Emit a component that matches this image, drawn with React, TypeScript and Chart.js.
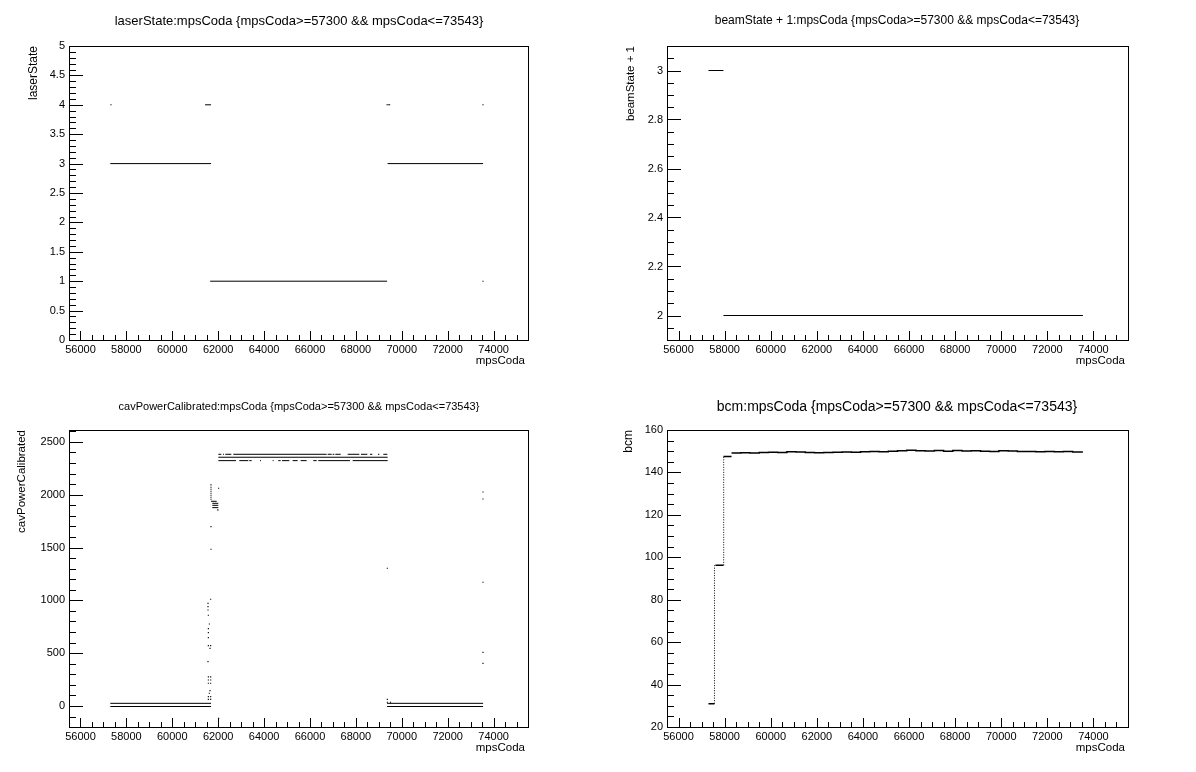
import React, { useEffect, useRef } from "react";
import { Chart, registerables } from "chart.js";
Chart.register(...registerables);

const FONT = "'Liberation Sans', Arial, Helvetica, sans-serif";

// ---------- shared x axis ----------
const xRange = [55500, 75500];
const xTickValues = [56000, 58000, 60000, 62000, 64000, 66000, 68000, 70000, 72000, 74000];

// ---------- panel 1: laserState ----------
const laserSegStart = [57300, 61650, 69380, 61430];
const laserSegEnd = [61690, 69360, 73543, 61690];
const laserSegValue = [3, 1, 3, 4];
const laserDotX = [57330, 69360, 69410, 69470, 73540, 73540];
const laserDotY = [4, 4, 4, 4, 4, 1];
const laserYTicks = [0, 0.5, 1, 1.5, 2, 2.5, 3, 3.5, 4, 4.5, 5];

// ---------- panel 2: beamState + 1 ----------
const beamSegStart = [57300, 57950];
const beamSegEnd = [57950, 73543];
const beamSegValue = [3, 2];
const beamYTicks = [2, 2.2, 2.4, 2.6, 2.8, 3];

// ---------- panel 3: cavPowerCalibrated ----------
const cavSegStart = [
  57300, 57300, 69360, 69360,
  62007, 62210, 62311, 62660, 66770, 66988, 67105, 67642, 68223, 68615, 68964, 69196,
  62007,
  62007, 62921, 63357, 63822, 64374, 64621, 64781, 65245, 65594, 66146, 66364, 67860,
  61687, 61745, 61745, 61745, 61950,
];
const cavSegEnd = [
  61690, 61690, 73543, 73543,
  62137, 62253, 62573, 66727, 66945, 67061, 67337, 68150, 68499, 68717, 69022, 69370,
  69385,
  62776, 63314, 63459, 63866, 64417, 64722, 65100, 65463, 65855, 66291, 67743, 69385,
  61935, 62005, 62005, 62005, 62020,
];
const cavSegValue = [
  25, -5, 25, -5,
  2383, 2383, 2383, 2383, 2383, 2383, 2383, 2383, 2383, 2383, 2383, 2383,
  2355,
  2323, 2323, 2323, 2323, 2323, 2323, 2323, 2323, 2323, 2323, 2323, 2323,
  1938, 1919, 1900, 1878, 1856,
];
const cavDotX = [
  61687, 61687, 61687, 61687, 61687, 61687, 61687, 61687, 62020,
  61687, 61687, 61673, 61557, 61557, 61557, 61572, 61616, 61572, 61572, 61572,
  61572, 61673, 61644, 61557, 61572, 61673, 61572, 61673, 61572, 61673, 61644,
  61616, 61572, 61673, 61572, 61673, 62020,
  69370, 73540, 73540, 73540, 69370, 69370, 69510, 73540, 73540,
];
const cavDotY = [
  2093, 2071, 2052, 2033, 2014, 1995, 1976, 1957, 2061,
  1698, 1484, 1010, 972, 941, 909, 859, 776, 732, 694, 647,
  571, 571, 546, 420, 275, 275, 246, 246, 215, 215, 145,
  120, 88, 88, 63, 63, -117,
  1304, 1171, 508, 404, 63, 35, 35, 2026, 1960,
];
const cavYTicks = [0, 500, 1000, 1500, 2000, 2500];

// ---------- panel 4: bcm ----------
const bcmSegStart = [57300, 57600, 57950];
const bcmSegEnd = [57560, 57950, 58300];
const bcmSegValue = [31, 96.2, 147.5];
const bcmRampX = [57560, 57960];
const bcmRampFrom = [31, 96.2];
const bcmRampTo = [96.2, 147.5];
const bcmLineX = [
  58300, 58700, 59100, 59500, 59900, 60300, 60700, 61100, 61500, 61900,
  62300, 62700, 63100, 63500, 63900, 64300, 64700, 65100, 65500, 65900,
  66300, 66700, 67100, 67500, 67900, 68300, 68700, 69100, 69500, 69900,
  70300, 70700, 71100, 71500, 71900, 72300, 72700, 73100, 73543,
];
const bcmLineY = [
  149.2, 149.3, 149.2, 149.4, 149.5, 149.4, 149.7, 149.6, 149.4, 149.3,
  149.4, 149.5, 149.6, 149.5, 149.7, 149.9, 149.8, 150.0, 150.2, 150.4,
  150.2, 150.1, 150.3, 150.0, 150.3, 150.1, 150.2, 150.0, 149.9, 150.2,
  150.1, 149.9, 149.9, 149.8, 149.9, 149.7, 149.9, 149.6, 149.6,
];
const bcmYTicks = [20, 40, 60, 80, 100, 120, 140, 160];

// ---------- helpers ----------
function segmentsData(start: number[], end: number[], value: number[]) {
  const out: any[] = [];
  start.forEach((s, i) => {
    out.push({ x: s, y: value[i] });
    out.push({ x: end[i], y: value[i] });
    out.push({ x: end[i], y: null });
  });
  return out;
}
function rampData(xs: number[], from: number[], to: number[]) {
  const out: any[] = [];
  xs.forEach((x, i) => {
    out.push({ x, y: from[i] });
    out.push({ x, y: to[i] });
    out.push({ x, y: null });
  });
  return out;
}
function pointsData(xs: number[], ys: number[]) {
  return xs.map((x, i) => ({ x, y: ys[i] }));
}

const segStyle = {
  showLine: true,
  pointRadius: 0,
  borderColor: "#000",
  borderWidth: 1,
  spanGaps: false,
};
const dotStyle = {
  showLine: false,
  pointRadius: 0.8,
  pointStyle: "rect",
  backgroundColor: "#000",
  borderWidth: 0,
};

type Spec = {
  left: number;
  top: number;
  frame: { l: number; r: number; t: number; b: number };
  yRange: number[];
  yTicks: number[];
  yMinor: number;
  title: string;
  titleSize: number;
  titleY: number;
  yTitle: string;
  yTitleX: number;
  yTitleSize: number;
  datasets: any[];
};

const W = 598;
const H = 386;

function makePlugin(spec: Spec) {
  return {
    id: "rootFrame",
    afterDraw(chart: any) {
      const ctx = chart.ctx;
      const a = chart.chartArea;
      const xs = chart.scales.x;
      const ys = chart.scales.y;
      ctx.save();
      ctx.strokeStyle = "#000";
      ctx.lineWidth = 1;
      ctx.strokeRect(a.left + 0.5, a.top + 0.5, a.right - a.left, a.bottom - a.top);
      ctx.beginPath();
      // x ticks
      for (let v = Math.ceil(xs.min / 500) * 500; v <= xs.max; v += 500) {
        const px = Math.round(xs.getPixelForValue(v)) + 0.5;
        if (px <= a.left + 1 || px >= a.right) continue;
        const major = xTickValues.indexOf(v) >= 0;
        ctx.moveTo(px, a.bottom);
        ctx.lineTo(px, a.bottom - (major ? 9 : 5));
      }
      // y ticks
      const step = spec.yMinor;
      for (let k = Math.ceil(ys.min / step - 1e-9); k * step <= ys.max + 1e-9; k++) {
        const v = k * step;
        const py = Math.round(ys.getPixelForValue(v)) + 0.5;
        if (py <= a.top + 1 || py >= a.bottom) continue;
        const major = spec.yTicks.some((t) => Math.abs(t - v) < step / 10);
        ctx.moveTo(a.left, py);
        ctx.lineTo(a.left + (major ? 14 : 7), py);
      }
      ctx.stroke();
      // texts
      ctx.fillStyle = "#000";
      ctx.textBaseline = "middle";
      ctx.font = `${spec.titleSize}px ${FONT}`;
      ctx.textAlign = "center";
      ctx.fillText(spec.title, W / 2, spec.titleY);
      ctx.font = `11.5px ${FONT}`;
      ctx.textAlign = "right";
      ctx.fillText("mpsCoda", a.right - 3, a.bottom + 21);
      ctx.translate(spec.yTitleX, a.top);
      ctx.rotate(-Math.PI / 2);
      ctx.textAlign = "right";
      ctx.font = `${spec.yTitleSize}px ${FONT}`;
      ctx.fillText(spec.yTitle, 0, 0);
      ctx.restore();
    },
  };
}

function Panel({ spec }: { spec: Spec }) {
  const ref = useRef<HTMLCanvasElement | null>(null);
  useEffect(() => {
    if (!ref.current) return;
    const f = spec.frame;
    const tickFont = { family: FONT, size: 11 };
    const chart = new Chart(ref.current, {
      type: "scatter",
      data: { datasets: spec.datasets },
      options: {
        animation: false,
        responsive: false,
        events: [],
        layout: { padding: { left: 0, right: W - f.r, top: f.t, bottom: 0 } },
        plugins: { legend: { display: false }, title: { display: false }, tooltip: { enabled: false } },
        scales: {
          x: {
            type: "linear",
            min: xRange[0],
            max: xRange[1],
            grid: { display: false, drawTicks: false },
            border: { display: false },
            afterBuildTicks: (s: any) => {
              s.ticks = xTickValues.map((v) => ({ value: v }));
            },
            afterFit: (s: any) => {
              s.height = H - f.b;
            },
            ticks: {
              autoSkip: false,
              maxRotation: 0,
              minRotation: 0,
              padding: 3,
              color: "#000",
              font: tickFont,
              callback: (v: any) => String(v),
            },
          },
          y: {
            type: "linear",
            min: spec.yRange[0],
            max: spec.yRange[1],
            grid: { display: false, drawTicks: false },
            border: { display: false },
            afterBuildTicks: (s: any) => {
              s.ticks = spec.yTicks.map((v) => ({ value: v }));
            },
            afterFit: (s: any) => {
              s.width = f.l;
            },
            ticks: {
              autoSkip: false,
              padding: 4,
              color: "#000",
              font: tickFont,
              callback: (v: any) => String(v),
            },
          },
        },
      } as any,
      plugins: [makePlugin(spec)],
    });
    return () => chart.destroy();
  }, []);
  return (
    <canvas
      ref={ref}
      width={W}
      height={H}
      style={{ position: "absolute", left: spec.left, top: spec.top, width: W, height: H }}
    />
  );
}

const specs: Spec[] = [
  {
    left: 0,
    top: 0,
    frame: { l: 69, r: 528, t: 46, b: 340 },
    yRange: [0, 5],
    yTicks: laserYTicks,
    yMinor: 0.1,
    title: "laserState:mpsCoda {mpsCoda>=57300 && mpsCoda<=73543}",
    titleSize: 13,
    titleY: 21,
    yTitle: "laserState",
    yTitleX: 34,
    yTitleSize: 12,
    datasets: [
      { ...segStyle, data: segmentsData(laserSegStart, laserSegEnd, laserSegValue) },
      { ...dotStyle, data: pointsData(laserDotX, laserDotY) },
    ],
  },
  {
    left: W,
    top: 0,
    frame: { l: 69, r: 530, t: 46, b: 340 },
    yRange: [1.9, 3.1],
    yTicks: beamYTicks,
    yMinor: 0.05,
    title: "beamState + 1:mpsCoda {mpsCoda>=57300 && mpsCoda<=73543}",
    titleSize: 12,
    titleY: 21,
    yTitle: "beamState + 1",
    yTitleX: 33,
    yTitleSize: 11.5,
    datasets: [{ ...segStyle, data: segmentsData(beamSegStart, beamSegEnd, beamSegValue) }],
  },
  {
    left: 0,
    top: H,
    frame: { l: 69, r: 528, t: 44, b: 341 },
    yRange: [-199, 2613],
    yTicks: cavYTicks,
    yMinor: 100,
    title: "cavPowerCalibrated:mpsCoda {mpsCoda>=57300 && mpsCoda<=73543}",
    titleSize: 11,
    titleY: 21,
    yTitle: "cavPowerCalibrated",
    yTitleX: 22,
    yTitleSize: 11.5,
    datasets: [
      { ...segStyle, data: segmentsData(cavSegStart, cavSegEnd, cavSegValue) },
      { ...dotStyle, data: pointsData(cavDotX, cavDotY) },
    ],
  },
  {
    left: W,
    top: H,
    frame: { l: 69, r: 530, t: 44, b: 341 },
    yRange: [20, 160],
    yTicks: bcmYTicks,
    yMinor: 5,
    title: "bcm:mpsCoda {mpsCoda>=57300 && mpsCoda<=73543}",
    titleSize: 14,
    titleY: 21,
    yTitle: "bcm",
    yTitleX: 31,
    yTitleSize: 12,
    datasets: [
      { ...segStyle, borderWidth: 1.5, data: segmentsData(bcmSegStart, bcmSegEnd, bcmSegValue) },
      { ...segStyle, borderDash: [1, 1.5], data: rampData(bcmRampX, bcmRampFrom, bcmRampTo) },
      { ...segStyle, borderWidth: 1.5, stepped: true, data: pointsData(bcmLineX, bcmLineY) },
    ],
  },
];

export default function App() {
  return (
    <div style={{ position: "absolute", left: 0, top: 0, width: 1196, height: 772, background: "#fff" }}>
      {specs.map((s, i) => (
        <Panel key={i} spec={s} />
      ))}
    </div>
  );
}
